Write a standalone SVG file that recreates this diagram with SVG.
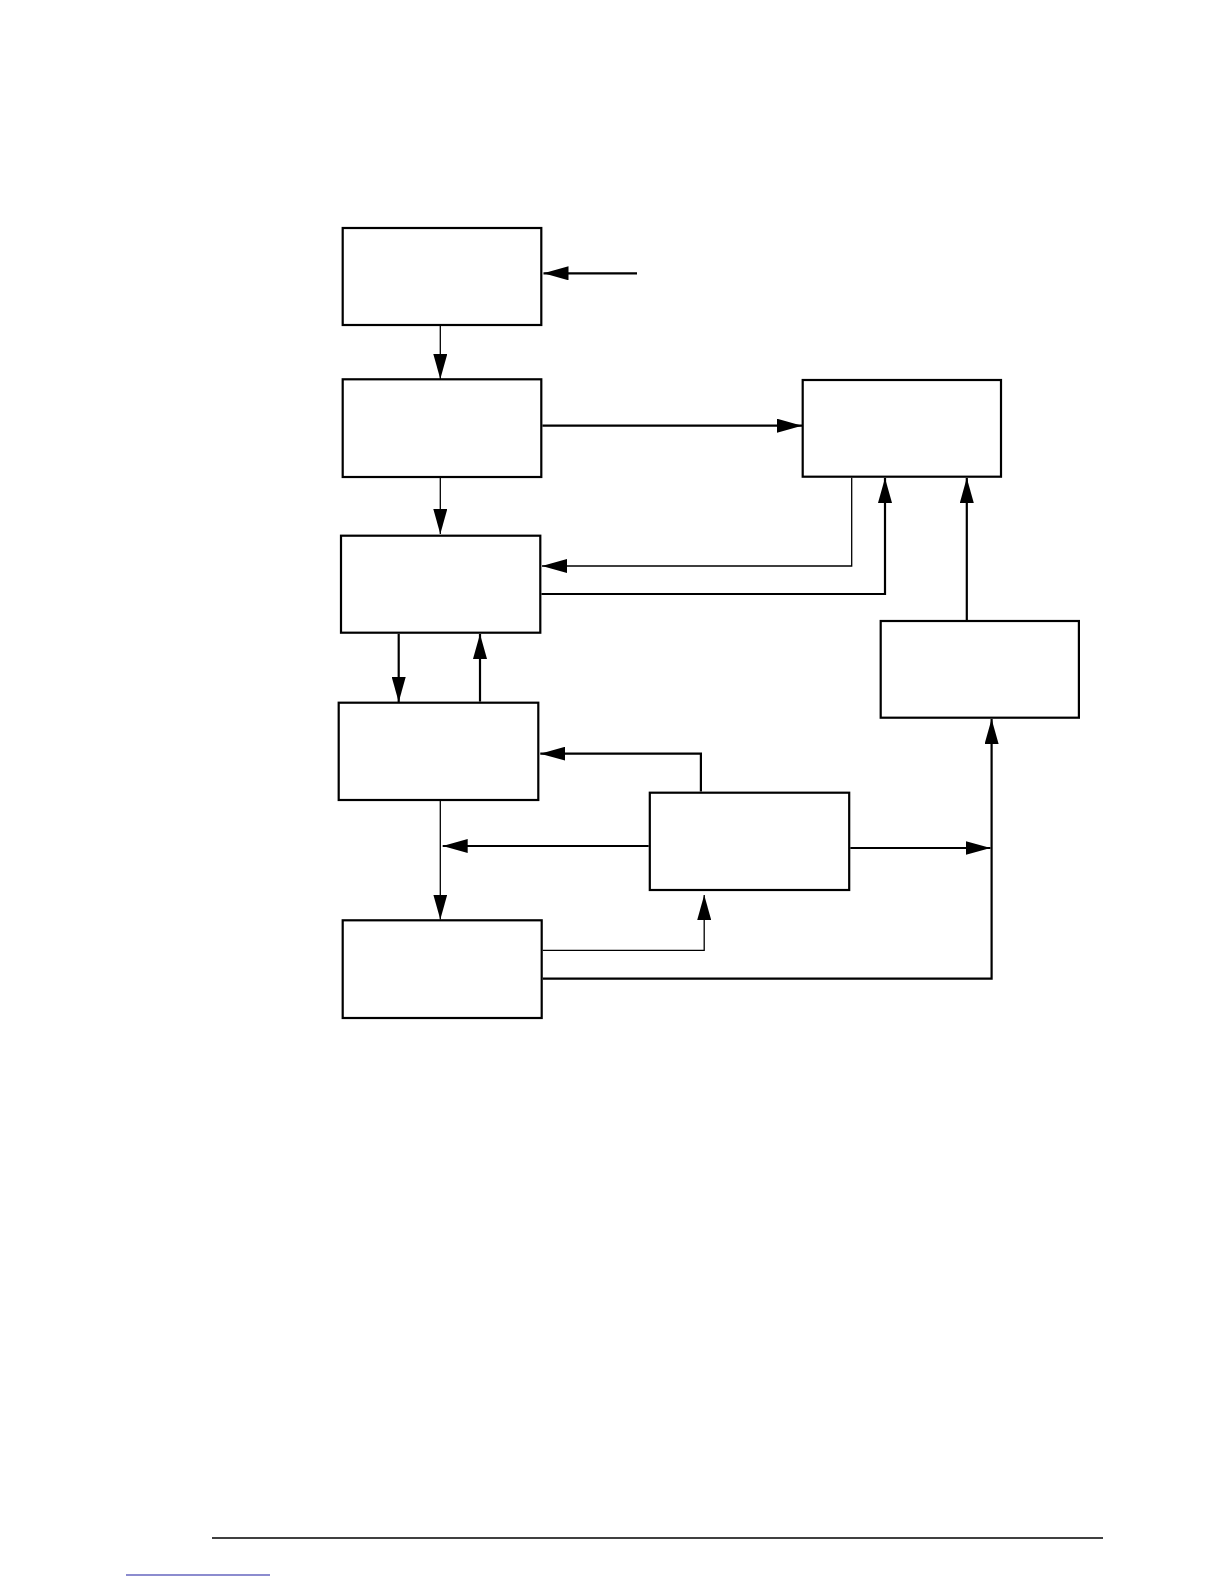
<svg xmlns="http://www.w3.org/2000/svg" width="1224" height="1584" viewBox="0 0 1224 1584">
<style>
.box{fill:#fff;stroke:#000;stroke-width:2.2}
.thick{fill:none;stroke:#000;stroke-width:2.2}
.thin{fill:none;stroke:#000;stroke-width:1.3}
</style>
<defs>
<marker id="ah" markerUnits="userSpaceOnUse" markerWidth="26" markerHeight="14" refX="25" refY="7" orient="auto" viewBox="0 0 26 14">
<path d="M0,0 L25,7 L0,14 z" fill="#000"/>
</marker>
</defs>
<rect width="1224" height="1584" fill="#fff"/>
<g id="nodes">
<g id="b1"><rect class="box" x="342.7" y="228" width="198.6" height="97"/></g>
<g id="b2"><rect class="box" x="342.7" y="379.3" width="198.6" height="97.7"/></g>
<g id="b3"><rect class="box" x="341" y="535.7" width="199.3" height="97"/></g>
<g id="b4"><rect class="box" x="338.7" y="702.7" width="199.6" height="97.3"/></g>
<g id="b5"><rect class="box" x="342.7" y="920.3" width="199" height="97.7"/></g>
<g id="r1"><rect class="box" x="802.7" y="380" width="198.3" height="96.7"/></g>
<g id="r2"><rect class="box" x="880.7" y="621" width="198.2" height="96.7"/></g>
<g id="m"><rect class="box" x="649.8" y="792.7" width="199.4" height="97.3"/></g>
</g>
<g id="connectors">
<line class="thick" x1="637" y1="273.3" x2="543.5" y2="273.3" marker-end="url(#ah)"/>
<line class="thin" x1="440.3" y1="326" x2="440.3" y2="379" marker-end="url(#ah)"/>
<line class="thick" x1="542.4" y1="425.7" x2="802" y2="425.7" marker-end="url(#ah)"/>
<line class="thin" x1="440.3" y1="478" x2="440.3" y2="534" marker-end="url(#ah)"/>
<polyline class="thin" points="851.7,477.8 851.7,566 542,566" marker-end="url(#ah)"/>
<polyline class="thick" points="541.4,594 885,594 885,478" marker-end="url(#ah)"/>
<line class="thick" x1="966.8" y1="620" x2="966.8" y2="478" marker-end="url(#ah)"/>
<line class="thick" x1="398.7" y1="633.8" x2="398.7" y2="702" marker-end="url(#ah)"/>
<line class="thick" x1="480" y1="701.6" x2="480" y2="634" marker-end="url(#ah)"/>
<polyline class="thick" points="700.9,791.6 700.9,753.7 540.3,753.7" marker-end="url(#ah)"/>
<line class="thin" x1="440.3" y1="801" x2="440.3" y2="919.5" marker-end="url(#ah)"/>
<line class="thick" x1="648.7" y1="846" x2="442.7" y2="846" marker-end="url(#ah)"/>
<line class="thick" x1="850.3" y1="848" x2="990.5" y2="848" marker-end="url(#ah)"/>
<polyline class="thin" points="542.8,950.3 704.2,950.3 704.2,895" marker-end="url(#ah)"/>
<polyline class="thick" points="542.8,978.7 991.6,978.7 991.6,719" marker-end="url(#ah)"/>
</g>
<line x1="212" y1="1538" x2="1103" y2="1538" stroke="#000" stroke-width="1.3"/>
<line x1="126" y1="1575" x2="270" y2="1575" stroke="#1a1aa0" stroke-width="1.2"/>
</svg>
